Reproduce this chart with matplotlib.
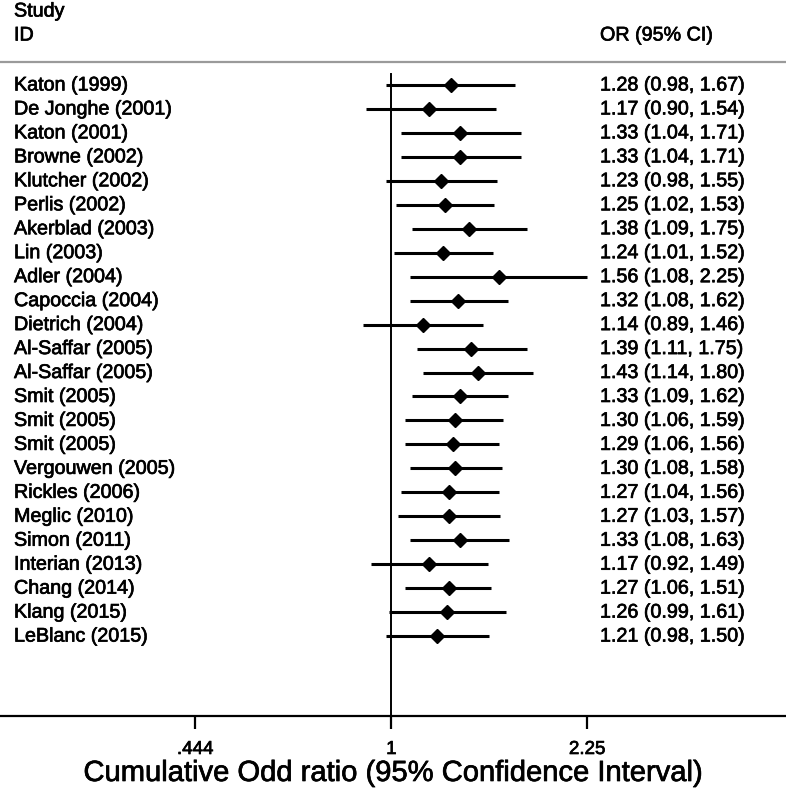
import matplotlib
matplotlib.use("Agg")
import matplotlib.pyplot as plt
from matplotlib.lines import Line2D
import matplotlib.patheffects as pe

studies = ["Katon (1999)", "De Jonghe (2001)", "Katon (2001)", "Browne (2002)", "Klutcher (2002)",
           "Perlis (2002)", "Akerblad (2003)", "Lin (2003)", "Adler (2004)", "Capoccia (2004)",
           "Dietrich (2004)", "Al-Saffar (2005)", "Al-Saffar (2005)", "Smit (2005)", "Smit (2005)",
           "Smit (2005)", "Vergouwen (2005)", "Rickles (2006)", "Meglic (2010)", "Simon (2011)",
           "Interian (2013)", "Chang (2014)", "Klang (2015)", "LeBlanc (2015)"]
odds = [1.28, 1.17, 1.33, 1.33, 1.23, 1.25, 1.38, 1.24, 1.56, 1.32, 1.14, 1.39, 1.43, 1.33,
        1.30, 1.29, 1.30, 1.27, 1.27, 1.33, 1.17, 1.27, 1.26, 1.21]
lower = [0.98, 0.90, 1.04, 1.04, 0.98, 1.02, 1.09, 1.01, 1.08, 1.08, 0.89, 1.11, 1.14, 1.09,
         1.06, 1.06, 1.08, 1.04, 1.03, 1.08, 0.92, 1.06, 0.99, 0.98]
upper = [1.67, 1.54, 1.71, 1.71, 1.55, 1.53, 1.75, 1.52, 2.25, 1.62, 1.46, 1.75, 1.80, 1.62,
         1.59, 1.56, 1.58, 1.56, 1.57, 1.63, 1.49, 1.51, 1.61, 1.50]
tick_vals = [0.444, 1, 2.25]
tick_labels = [".444", "1", "2.25"]

plt.rcParams['font.family'] = ['Liberation Sans', 'DejaVu Sans']

W, H = 786, 791
fig = plt.figure(figsize=(W / 100, H / 100), dpi=100)

def fy(py):
    return 1 - py / H

def fx(px):
    return px / W

heavy = [pe.withStroke(linewidth=0.5, foreground='black')]

row0_px, row_step = 85.0, 23.96
top_px, axis_px = 62.0, 716.0
ax = fig.add_axes([0, fy(axis_px), 1, (axis_px - top_px) / H])
n = len(studies)
ax.set_xscale('log')
ax.set_xlim(0.198, 5.12)
ytop = -(row0_px - top_px) / row_step
ybot = (axis_px - row0_px) / row_step
ax.set_ylim(ybot, ytop)

for s in ['top', 'right', 'left']:
    ax.spines[s].set_visible(False)
ax.spines['bottom'].set_linewidth(1.6)
ax.set_yticks([])
ax.set_xticks(tick_vals)
ax.set_xticklabels(tick_labels, fontsize=13.5)
for t in ax.get_xticklabels():
    t.set_path_effects(heavy)
ax.xaxis.set_minor_locator(matplotlib.ticker.NullLocator())
ax.tick_params(axis='x', length=9.5, width=1.6, pad=8.5)

fig.text(fx(393), fy(781), "Cumulative Odd ratio (95% Confidence Interval)", fontsize=21,
         ha='center', va='baseline', path_effects=heavy)

# vertical line at 1
ax.plot([1, 1], [-0.45, ybot], color='black', lw=1.4, clip_on=False)

for i in range(n):
    ax.plot([lower[i], upper[i]], [i, i], color='black', lw=2.2, solid_capstyle='butt')
    ax.plot(odds[i], i, marker='D', color='black', markersize=7, ls='none')

# grey separator
fig.add_artist(Line2D([0, 1], [fy(top_px), fy(top_px)], color='#9a9a9a', lw=1.6,
                      transform=fig.transFigure))

fs = 14.2
fig.text(fx(14), fy(11), "Study", fontsize=fs, va='center', ha='left', path_effects=heavy)
fig.text(fx(14), fy(35), "ID", fontsize=fs, va='center', ha='left', path_effects=heavy)
fig.text(fx(600), fy(35), "OR (95% CI)", fontsize=fs, va='center', ha='left', path_effects=heavy)

for i in range(n):
    y = row0_px + i * row_step
    fig.text(fx(14), fy(y), studies[i], fontsize=fs, va='center', ha='left', path_effects=heavy)
    fig.text(fx(600), fy(y), f"{odds[i]:.2f} ({lower[i]:.2f}, {upper[i]:.2f})",
             fontsize=fs, va='center', ha='left', path_effects=heavy)

fig.savefig("out.png", dpi=100)
